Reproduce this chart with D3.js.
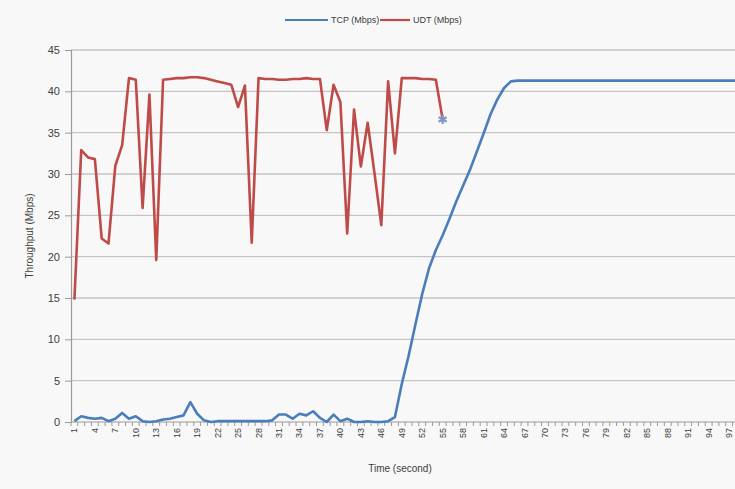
<!DOCTYPE html>
<html>
<head>
<meta charset="utf-8">
<script src="https://cdn.jsdelivr.net/npm/d3@7"></script>
<style>
  html, body { margin: 0; padding: 0; background: #f8f8f8; }
  svg { display: block; }
  text { font-family: "Liberation Sans", Arial, sans-serif; fill: #404040; }
</style>
</head>
<body>
<svg id="chart" width="735" height="489"></svg>
<script>
// ---- data ----
const categories = [1,2,3,4,5,6,7,8,9,10,11,12,13,14,15,16,17,18,19,20,
  21,22,23,24,25,26,27,28,29,30,31,32,33,34,35,36,37,38,39,40,
  41,42,43,44,45,46,47,48,49,50,51,52,53,54,55,56,57,58,59,60,
  61,62,63,64,65,66,67,68,69,70,71,72,73,74,75,76,77,78,79,80,
  81,82,83,84,85,86,87,88,89,90,91,92,93,94,95,96,97,98];

const tcpValues = [0.1,0.7,0.5,0.4,0.5,0.1,0.4,1.1,0.4,0.7,
  0.1,0.0,0.1,0.3,0.4,0.6,0.8,2.4,1.0,0.2,
  0.0,0.1,0.1,0.1,0.1,0.1,0.1,0.1,0.1,0.2,
  0.9,0.9,0.4,1.0,0.8,1.3,0.5,0.0,0.9,0.1,
  0.4,0.0,0.0,0.1,0.0,0.0,0.1,0.6,4.6,8.0,
  11.8,15.5,18.6,20.8,22.6,24.6,26.7,28.6,30.5,32.7,
  34.9,37.2,39.0,40.4,41.2,41.3,41.3,41.3,41.3,41.3,
  41.3,41.3,41.3,41.3,41.3,41.3,41.3,41.3,41.3,41.3,
  41.3,41.3,41.3,41.3,41.3,41.3,41.3,41.3,41.3,41.3,
  41.3,41.3,41.3,41.3,41.3,41.3,41.3,41.3];

const udtValues = [14.8,32.9,32.0,31.8,22.2,21.6,31.0,33.5,41.6,41.4,
  25.9,39.6,19.6,41.4,41.5,41.6,41.6,41.7,41.7,41.6,
  41.4,41.2,41.0,40.8,38.1,40.7,21.7,41.6,41.5,41.5,
  41.4,41.4,41.5,41.5,41.6,41.5,41.5,35.3,40.8,38.7,
  22.8,37.8,30.9,36.2,30.1,23.8,41.2,32.5,41.6,41.6,
  41.6,41.5,41.5,41.4,36.6];

const yTicks = [0,5,10,15,20,25,30,35,40,45];
const xTickLabels = [1,4,7,10,13,16,19,22,25,28,31,34,37,40,43,46,49,52,55,58,61,64,67,70,73,76,79,82,85,88,91,94,97];
const seriesNames = ["TCP (Mbps)", "UDT (Mbps)"];
const seriesColors = ["#4a7ebb", "#be4b48"];

(function () {
  const svg = d3.select("#chart");
  const pLeft = 71, pTop = 50, pBottom = 422;
  const step = 6.82;
  const pRight = pLeft + categories.length * step;

  const x = d3.scalePoint().domain(categories).range([pLeft, pRight]).padding(0.5);
  const y = d3.scaleLinear().domain([0, 45]).range([pBottom, pTop]);

  // gridlines
  svg.append("g").selectAll("line").data(yTicks.filter(d => d > 0)).join("line")
    .attr("x1", pLeft).attr("x2", 735)
    .attr("y1", d => y(d)).attr("y2", d => y(d))
    .attr("stroke", "#c4c4c4").attr("stroke-width", 1.4);

  // y axis
  const yAxis = d3.axisLeft(y).tickValues(yTicks).tickSize(6).tickPadding(5);
  const gy = svg.append("g").attr("transform", `translate(${pLeft},0)`).call(yAxis);
  gy.select(".domain").attr("stroke", "#9a9a9a").attr("stroke-width", 1.2);
  gy.selectAll(".tick line").attr("stroke", "#9a9a9a");
  gy.selectAll(".tick text").attr("font-size", 11).style("fill", "#404040")
    .style("font-family", "Liberation Sans, Arial, sans-serif");

  // x axis line
  svg.append("line").attr("x1", pLeft).attr("x2", 735).attr("y1", pBottom).attr("y2", pBottom)
    .attr("stroke", "#9a9a9a").attr("stroke-width", 1.2);
  // minor ticks at category boundaries
  svg.append("g").selectAll("line").data(categories).join("line")
    .attr("x1", d => x(d) - step / 2).attr("x2", d => x(d) - step / 2)
    .attr("y1", pBottom).attr("y2", pBottom + 4)
    .attr("stroke", "#9a9a9a").attr("stroke-width", 1);

  // x tick labels (rotated)
  svg.append("g").selectAll("text").data(xTickLabels).join("text")
    .attr("transform", d => `translate(${x(d) + 3},${pBottom + 6}) rotate(-90)`)
    .attr("text-anchor", "end")
    .attr("font-size", 9)
    .text(d => d);

  // axis titles
  svg.append("text")
    .attr("transform", `translate(33,${(pTop + pBottom) / 2}) rotate(-90)`)
    .attr("text-anchor", "middle").attr("font-size", 10)
    .text("Throughput (Mbps)");
  svg.append("text")
    .attr("x", 400).attr("y", 472)
    .attr("text-anchor", "middle").attr("font-size", 10)
    .text("Time (second)");

  // lines
  const line = d3.line().x((d, i) => x(categories[i])).y(d => y(d));
  svg.append("path").datum(tcpValues)
    .attr("d", line).attr("fill", "none")
    .attr("stroke", seriesColors[0]).attr("stroke-width", 2.6).attr("stroke-linejoin", "round");
  svg.append("path").datum(udtValues)
    .attr("d", line).attr("fill", "none")
    .attr("stroke", seriesColors[1]).attr("stroke-width", 2.6).attr("stroke-linejoin", "round");

  // star marker at the end of UDT
  const last = udtValues.length - 1;
  svg.append("path")
    .attr("transform", `translate(${x(categories[last])},${y(udtValues[last])})`)
    .attr("d", d3.symbol(d3.symbolAsterisk, 60)())
    .attr("fill", "none").attr("stroke", "#7f95c4").attr("stroke-width", 2.2);

  // legend
  const legend = svg.append("g");
  const legendItems = [
    {name: seriesNames[0], color: seriesColors[0], x0: 285, x1: 328},
    {name: seriesNames[1], color: seriesColors[1], x0: 380, x1: 410}
  ];
  legendItems.forEach(it => {
    legend.append("line").attr("x1", it.x0).attr("x2", it.x1).attr("y1", 20).attr("y2", 20)
      .attr("stroke", it.color).attr("stroke-width", 2.2);
    legend.append("text").attr("x", it.x1 + 3).attr("y", 23).attr("font-size", 9).text(it.name);
  });
})();
</script>
</body>
</html>
